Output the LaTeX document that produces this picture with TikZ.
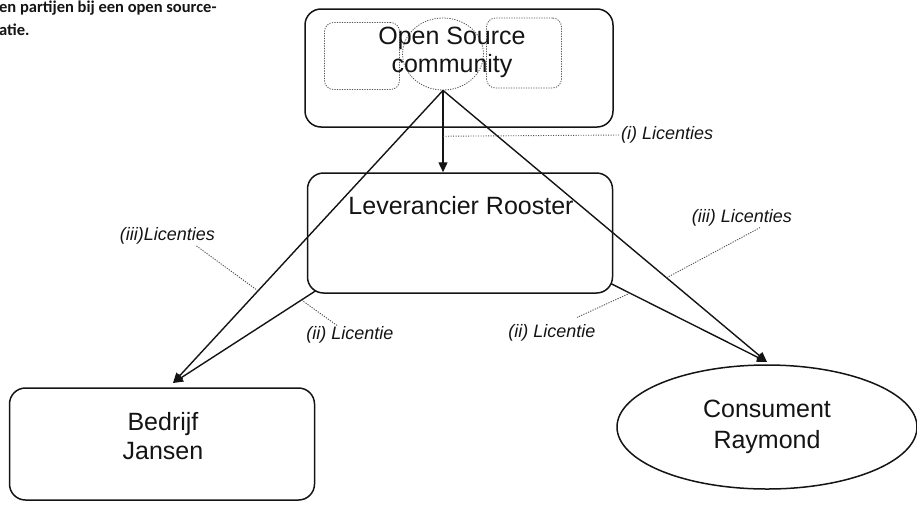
\documentclass[tikz,border=0pt]{standalone}
\usepackage{fontspec}
\setmainfont{Liberation Sans}
\newfontfamily\captionfont{Carlito}
\usepackage{xcolor}
\usetikzlibrary{arrows.meta,shapes.geometric}
\definecolor{ink}{HTML}{141414}
\definecolor{muted}{HTML}{505050}
\newcommand{\partyfont}{\fontsize{25}{29}\selectfont}
\newcommand{\lictagfont}{\fontsize{18}{20}\selectfont\itshape}
\tikzset{
  >={Triangle[length=10pt,width=9pt]},
  flow/.style={->,line width=1.4pt,draw=ink},
  pointer/.style={draw=muted,line width=0.9pt,dash pattern=on 1.2pt off 1.3pt},
  party/.style={draw=ink,line width=1.5pt,rounded corners=16pt,align=center,font=\partyfont,text=ink},
  member/.style={draw=muted,line width=0.8pt,dash pattern=on 1.2pt off 1.3pt,rounded corners=9pt},
  tag/.style={font=\lictagfont,inner sep=1pt,text=ink}
}

\begin{document}
\begin{tikzpicture}[x=1pt,y=-1pt]
  \useasboundingbox (0,0) rectangle (917,509);
  \node[anchor=north west,inner sep=0,align=left,text=ink,
        font=\captionfont\bfseries\fontsize{16.5}{23}\selectfont] (caption) at (-1,1)
        {en partijen bij een open source-\\atie.};
  \node[party,minimum width=308,minimum height=118] (os) at (459,68) {};
  \node[member,minimum width=75,minimum height=67] (mleft) at (362,56) {};
  \node[member,ellipse,minimum width=81,minimum height=72] (mcore) at (443,54) {};
  \node[member,minimum width=75,minimum height=70] (mright) at (524,53) {};
  \node[align=center,text=ink,font=\fontsize{25}{28}\selectfont] (ostext) at (452,52) {Open Source\\community};
  \node[party,minimum width=305,minimum height=120] (lev) at (460,233) {};
  \node[text=ink,font=\partyfont] (levtext) at (461,206) {Leverancier Rooster};
  \node[party,minimum width=305,minimum height=112] (jansen) at (162,444) {};
  \node[align=center,text=ink,font=\partyfont] (jansentext) at (163,436) {Bedrijf\\Jansen};
  \node[party,ellipse,rounded corners=0pt,minimum width=300,minimum height=124,
        font=\fontsize{25}{31}\selectfont] (raymond) at (767,427) {Consument\\Raymond};
  \coordinate (jtip) at (173,383);
  \coordinate (rtip) at (767,362);
  \coordinate (levsw) at ([shift={(9,-3)}]lev.south west);
  \coordinate (levse) at ([shift={(-2,-10)}]lev.south east);
  \draw[flow] (mcore.south) -- (mcore.south |- lev.north) coordinate[pos=.56] (p1);
  \draw[flow] (mcore.south) -- (jtip) coordinate[pos=.685] (p3l);
  \draw[flow] (mcore.south) -- (rtip) coordinate[pos=.69] (p3r);
  \draw[flow] (levsw) -- (jtip) coordinate[pos=.1] (p2l);
  \draw[flow] (levse) -- (rtip) coordinate[pos=.12] (p2r);
  \node[tag,anchor=west] (lic1) at (620,135) {(i) Licenties};
  \node[tag,anchor=east] (lic3l) at (216,236) {(iii)Licenties};
  \node[tag] (lic2l) at (350,335) {(ii) Licentie};
  \node[tag] (lic2r) at (552,333) {(ii) Licentie};
  \node[tag] (lic3r) at (742,218) {(iii) Licenties};
  \draw[pointer] (p1) -- (lic1.west);
  \draw[pointer] (p3l) -- ([xshift=-20pt]lic3l.south east);
  \draw[pointer] (p2l) -- ([xshift=-13pt]lic2l.north);
  \draw[pointer] (p2r) -- ([xshift=25pt,yshift=6pt]lic2r.north);
  \draw[pointer] (p3r) -- ([xshift=18pt]lic3r.south);
\end{tikzpicture}
\end{document}
